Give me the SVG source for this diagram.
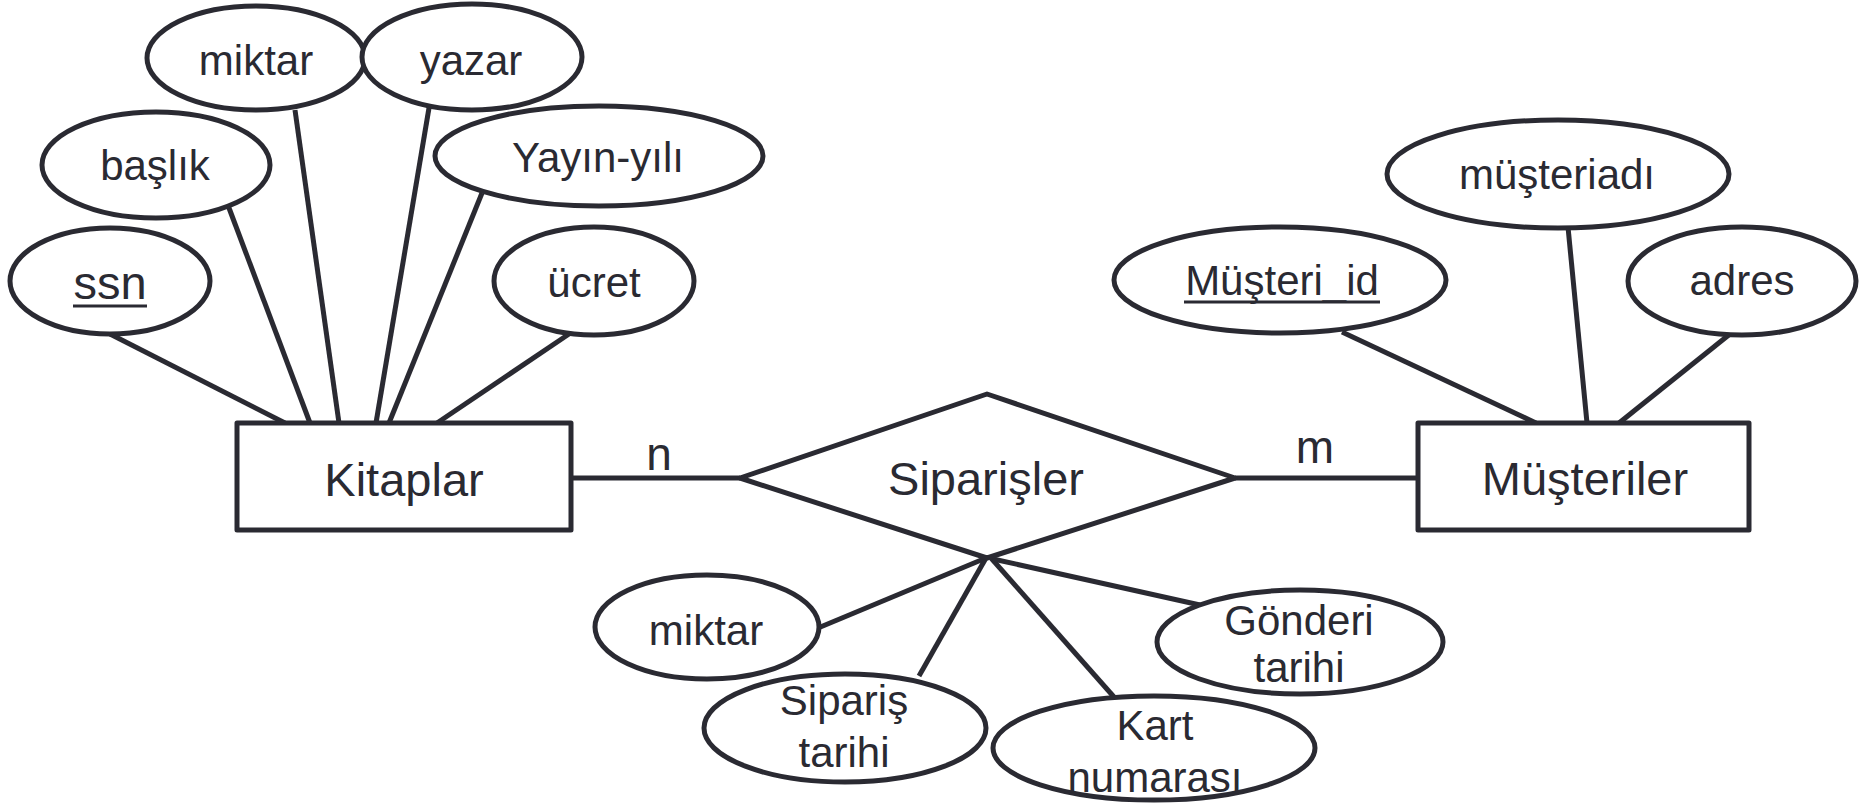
<svg xmlns="http://www.w3.org/2000/svg" width="1860" height="807" viewBox="0 0 1860 807">
  <style>
    .ln { stroke: #2a2a32; stroke-width: 5; fill: none; stroke-linecap: butt; }
    .shape { stroke: #2a2a32; stroke-width: 5; fill: #ffffff; stroke-linejoin: round; }
    text { font-family: "Liberation Sans", Arial, Helvetica, sans-serif; fill: #2a2a32; text-anchor: middle; }
    .attr { font-size: 42px; }
    .big { font-size: 47px; }
    .card { font-size: 46px; }
    .ul { stroke: #2a2a32; stroke-width: 3; }
  </style>

  <!-- connectors -->
  <g id="connectors">
    <!-- Kitaplar attributes -->
    <line class="ln" x1="110" y1="334" x2="285" y2="423"/>
    <line class="ln" x1="226" y1="200" x2="310" y2="423"/>
    <line class="ln" x1="295" y1="110" x2="339" y2="423"/>
    <line class="ln" x1="430" y1="102" x2="376" y2="423"/>
    <line class="ln" x1="482" y1="193" x2="389" y2="423"/>
    <line class="ln" x1="569" y1="334" x2="437" y2="423"/>
    <!-- relationship links -->
    <line class="ln" x1="571" y1="478" x2="740" y2="478"/>
    <line class="ln" x1="1235" y1="478" x2="1418" y2="478"/>
    <!-- Müşteriler attributes -->
    <line class="ln" x1="1342" y1="332" x2="1536" y2="423"/>
    <line class="ln" x1="1568" y1="227" x2="1587" y2="423"/>
    <line class="ln" x1="1730" y1="334" x2="1619" y2="423"/>
    <!-- Siparişler attributes -->
    <line class="ln" x1="986" y1="558" x2="818" y2="628"/>
    <line class="ln" x1="986" y1="558" x2="919" y2="676"/>
    <line class="ln" x1="991" y1="558" x2="1114" y2="697"/>
    <line class="ln" x1="993" y1="559" x2="1200" y2="605"/>
  </g>

  <!-- entity: Kitaplar -->
  <g id="kitaplar">
    <rect class="shape" x="237" y="423" width="334" height="107"/>
    <text class="big" x="404" y="496">Kitaplar</text>
  </g>

  <g id="attr-ssn">
    <ellipse class="shape" cx="110" cy="281" rx="100" ry="53"/>
    <text class="big" x="110" y="299">ssn</text>
    <line class="ul" x1="73" y1="306" x2="147" y2="306"/>
  </g>
  <g id="attr-baslik">
    <ellipse class="shape" cx="156" cy="165" rx="114" ry="53"/>
    <text class="attr" x="155" y="180">başlık</text>
  </g>
  <g id="attr-miktar-kitap">
    <ellipse class="shape" cx="256" cy="58" rx="109" ry="52"/>
    <text class="attr" x="256" y="75">miktar</text>
  </g>
  <g id="attr-yazar">
    <ellipse class="shape" cx="472" cy="57" rx="110" ry="53"/>
    <text class="attr" x="471" y="75">yazar</text>
  </g>
  <g id="attr-yayin-yili">
    <ellipse class="shape" cx="599" cy="156" rx="164" ry="50"/>
    <text class="attr" x="598" y="172">Yayın-yılı</text>
  </g>
  <g id="attr-ucret">
    <ellipse class="shape" cx="594" cy="281" rx="100" ry="54"/>
    <text class="attr" x="594" y="297">ücret</text>
  </g>

  <!-- relationship: Siparişler -->
  <g id="siparisler">
    <polygon class="shape" points="987,394 1235,478 987,558 740,478"/>
    <text class="big" x="986" y="495">Siparişler</text>
  </g>
  <g id="card-n">
    <text class="card" x="659" y="470">n</text>
  </g>
  <g id="card-m">
    <text class="card" x="1315" y="463">m</text>
  </g>

  <g id="attr-miktar-siparis">
    <ellipse class="shape" cx="707" cy="627" rx="112" ry="52"/>
    <text class="attr" x="706" y="645">miktar</text>
  </g>
  <g id="attr-siparis-tarihi">
    <ellipse class="shape" cx="845" cy="728" rx="141" ry="54"/>
    <text class="attr" x="844" y="715">Sipariş</text>
    <text class="attr" x="844" y="767">tarihi</text>
  </g>
  <g id="attr-kart-numarasi">
    <ellipse class="shape" cx="1154" cy="748" rx="161" ry="52"/>
    <text class="attr" x="1155" y="740">Kart</text>
    <text class="attr" x="1155" y="792">numarası</text>
  </g>
  <g id="attr-gonderi-tarihi">
    <ellipse class="shape" cx="1300" cy="642" rx="143" ry="52"/>
    <text class="attr" x="1299" y="635">Gönderi</text>
    <text class="attr" x="1299" y="682">tarihi</text>
  </g>

  <!-- entity: Müşteriler -->
  <g id="musteriler">
    <rect class="shape" x="1418" y="423" width="331" height="107"/>
    <text class="big" x="1585" y="495">Müşteriler</text>
  </g>
  <g id="attr-musteri-id">
    <ellipse class="shape" cx="1280" cy="280" rx="166" ry="53"/>
    <text class="attr" x="1282" y="295">Müşteri_id</text>
    <line class="ul" x1="1184" y1="302" x2="1380" y2="302"/>
  </g>
  <g id="attr-musteriadi">
    <ellipse class="shape" cx="1558" cy="174" rx="171" ry="54"/>
    <text class="attr" x="1557" y="189">müşteriadı</text>
  </g>
  <g id="attr-adres">
    <ellipse class="shape" cx="1742" cy="281" rx="114" ry="54"/>
    <text class="attr" x="1742" y="295">adres</text>
  </g>
</svg>
